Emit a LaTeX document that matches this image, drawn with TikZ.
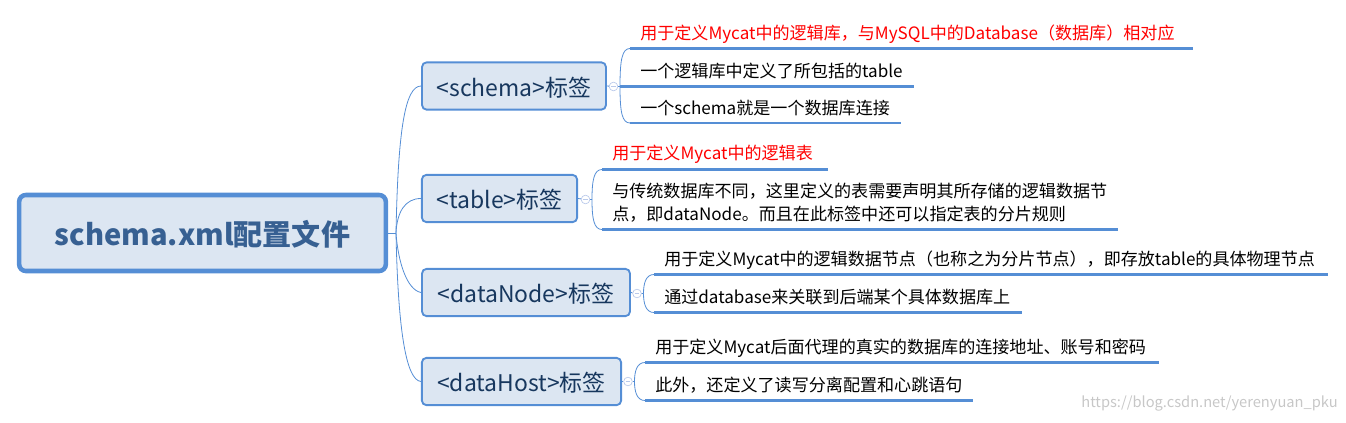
\documentclass[tikz,border=0pt]{standalone}
\usepackage{fontspec}
\setmainfont{Noto Sans CJK SC}
\usetikzlibrary{positioning}
\definecolor{linkblue}{HTML}{558ED5}
\definecolor{boxfill}{HTML}{DCE6F2}
\definecolor{boxtext}{HTML}{17375E}
\definecolor{roottext}{HTML}{376092}
\definecolor{togglecol}{HTML}{B9C9EA}
\begin{document}
\begin{tikzpicture}[x=0.75pt,y=-0.75pt,
  rootbox/.style={draw=linkblue,fill=boxfill,line width=3.4pt,rounded corners=5pt,minimum width=275pt,minimum height=57pt,inner sep=0pt,text height=20pt,text depth=1pt,font=\fontsize{21.8}{26}\selectfont\bfseries,text=roottext},
  tagbox/.style={draw=linkblue,fill=boxfill,line width=1.4pt,rounded corners=3.5pt,minimum height=35.5pt,inner sep=0pt,text height=15.5pt,text depth=0.3pt,font=\fontsize{17.2}{20}\selectfont,text=boxtext},
  leaf/.style={anchor=west,inner sep=0pt,yshift=-1pt,font=\fontsize{12.8}{17.5}\selectfont,text=black},
  bar/.style={linkblue,line width=2.2pt},
  twig/.style={linkblue,line width=0.6pt},
  toggle/.style={circle,draw=togglecol,fill=white,line width=0.5pt,minimum size=6.5pt,inner sep=0pt,path picture={\draw[togglecol,line width=0.5pt] ([xshift=-1.8pt]path picture bounding box.center) -- ([xshift=1.8pt]path picture bounding box.center);}}]
  \path[use as bounding box] (0,0) rectangle (1346,422);

  \node[rootbox] (root) at (202.5,233) {schema.xml配置文件};
  \node[tagbox,minimum width=138pt] (schema) at (514,86) {<schema>标签};
  \node[tagbox,minimum width=116.5pt] (table) at (499.5,198.5) {<table>标签};
  \node[tagbox,minimum width=156pt] (dataNode) at (526,292.5) {<dataNode>标签};
  \node[tagbox,minimum width=149.5pt] (dataHost) at (521.5,381.5) {<dataHost>标签};

  \coordinate (hub) at (396,233);
  \draw[twig] (root.east) -- (hub);
  \draw[twig] (hub) .. controls (398,130) and (405,86) .. (schema.west);
  \draw[twig] (hub) .. controls (397,212) and (405,198.5) .. (table.west);
  \draw[twig] (hub) .. controls (398,262) and (407,290) .. (dataNode.west);
  \draw[twig] (hub) .. controls (398,330) and (406,380) .. (dataHost.west);

  % schema
  \node[toggle] (togA) at (613.5,86.5) {};
  \coordinate (forkA) at (620,86.5);
  \node[leaf,text=red] (a1) at (640,33) {用于定义Mycat中的逻辑库，与MySQL中的Database（数据库）相对应};
  \node[leaf] (a2) at (640,70) {一个逻辑库中定义了所包括的table};
  \node[leaf] (a3) at (640,107) {一个schema就是一个数据库连接};
  \coordinate (a1s) at (630,48.5); \coordinate (a1e) at (1193,48.5);
  \coordinate (a2s) at (620,86.5); \coordinate (a2e) at (914,86.5);
  \coordinate (a3s) at (630,123); \coordinate (a3e) at (901,123);
  \draw[twig] (schema.east) -- (togA) -- (forkA);
  \draw[twig] (forkA) .. controls (620,60) and (622,48.5) .. (a1s);
  \draw[twig] (forkA) .. controls (620,112) and (622,123) .. (a3s);
  \draw[bar] (a1s) -- (a1e);
  \draw[bar] (a2s) -- (a2e);
  \draw[bar] (a3s) -- (a3e);

  % table
  \node[toggle] (togB) at (585.5,199.5) {};
  \coordinate (forkB) at (592,199.5);
  \node[leaf,text=red] (b1) at (612,153) {用于定义Mycat中的逻辑表};
  \node[leaf,align=left] (b2) at (612,201.5) {与传统数据库不同，这里定义的表需要声明其所存储的逻辑数据节\\点，即dataNode。而且在此标签中还可以指定表的分片规则};
  \coordinate (b1s) at (602,169.5); \coordinate (b1e) at (828,169.5);
  \coordinate (b2s) at (602,229.5); \coordinate (b2e) at (1118,229.5);
  \draw[twig] (table.east) -- (togB) -- (forkB);
  \draw[twig] (forkB) .. controls (592,180) and (594,169.5) .. (b1s);
  \draw[twig] (forkB) .. controls (592,219) and (594,229.5) .. (b2s);
  \draw[bar] (b1s) -- (b1e);
  \draw[bar] (b2s) -- (b2e);

  % dataNode
  \node[toggle] (togC) at (637,293.5) {};
  \coordinate (forkC) at (643.5,293.5);
  \node[leaf] (c1) at (664,259) {用于定义Mycat中的逻辑数据节点（也称之为分片节点），即存放table的具体物理节点};
  \node[leaf] (c2) at (664,296) {通过database来关联到后端某个具体数据库上};
  \coordinate (c1s) at (654,274.5); \coordinate (c1e) at (1328,274.5);
  \coordinate (c2s) at (654,312.5); \coordinate (c2e) at (1022,312.5);
  \draw[twig] (dataNode.east) -- (togC) -- (forkC);
  \draw[twig] (forkC) .. controls (643.5,283) and (646,274.5) .. (c1s);
  \draw[twig] (forkC) .. controls (643.5,304) and (646,312.5) .. (c2s);
  \draw[bar] (c1s) -- (c1e);
  \draw[bar] (c2s) -- (c2e);

  % dataHost
  \node[toggle] (togD) at (628,381.5) {};
  \coordinate (forkD) at (634.5,381.5);
  \node[leaf] (d1) at (655,347) {用于定义Mycat后面代理的真实的数据库的连接地址、账号和密码};
  \node[leaf] (d2) at (655,384) {此外，还定义了读写分离配置和心跳语句};
  \coordinate (d1s) at (645,362.5); \coordinate (d1e) at (1159,362.5);
  \coordinate (d2s) at (645,400.5); \coordinate (d2e) at (973,400.5);
  \draw[twig] (dataHost.east) -- (togD) -- (forkD);
  \draw[twig] (forkD) .. controls (634.5,371) and (637,362.5) .. (d1s);
  \draw[twig] (forkD) .. controls (634.5,392) and (637,400.5) .. (d2s);
  \draw[bar] (d1s) -- (d1e);
  \draw[bar] (d2s) -- (d2e);

  \node[anchor=east,inner sep=0pt,font=\fontsize{11}{13}\selectfont,text=black!22] (mark) at (1338,403) {https://blog.csdn.net/yerenyuan\_pku};
\end{tikzpicture}
\end{document}
